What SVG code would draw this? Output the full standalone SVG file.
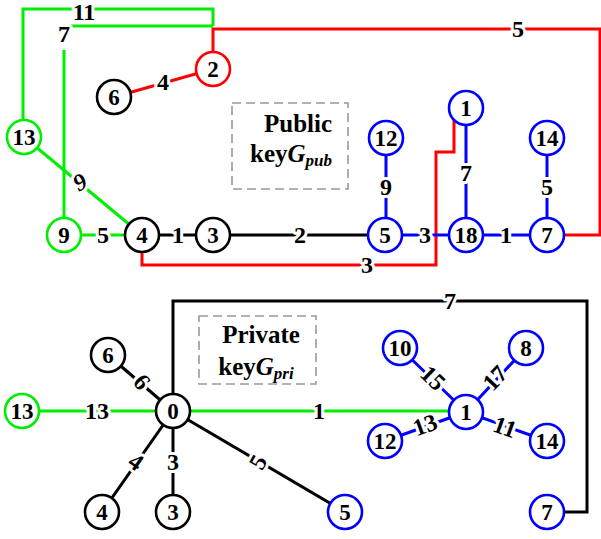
<svg xmlns="http://www.w3.org/2000/svg" width="601" height="539" viewBox="0 0 601 539" font-family="'Liberation Serif', 'Times New Roman', serif">
<style>
text{font-family:'Liberation Serif','Times New Roman',serif;font-weight:bold;text-anchor:middle}
.n circle{fill:#fff;stroke-width:2.6}
.n text{font-size:23px}
.lb text{font-size:24px;stroke:#fff;stroke-width:6;paint-order:stroke;stroke-linejoin:round}
.e{fill:none;stroke-width:3}
.g{stroke:#00ee00}.r{stroke:#ff0000}.b{stroke:#0000ff}.k{stroke:#000}
.box{fill:none;stroke:#999;stroke-width:1.6;stroke-dasharray:9 5}
.bt{font-size:25px}
</style>
<g id="connectors">
<path class="e g" d="M23,120 V9 H213 V26"/>
<path class="e g" d="M64,218 V50 M71,26 H213"/>
<path class="e g" d="M24,137 L142,235"/>
<path class="e g" d="M64,235 H142"/>
<path class="e r" d="M213,52 V29 H600 V235 H564"/>
<path class="e r" d="M114,97 L213,69"/>
<path class="e r" d="M142,252 V265 H436 V152 H454 V120"/>
<path class="e k" d="M142,235 H385"/>
<path class="e b" d="M385,235 H547"/>
<path class="e b" d="M386,138 V235"/>
<path class="e b" d="M466,108 V235"/>
<path class="e b" d="M547,138 V235"/>
<path class="e k" d="M173,394 V301 H587 V512 H564"/>
<path class="e g" d="M22,411 H173"/>
<path class="e g" d="M173,411 H466"/>
<path class="e k" d="M108,355 L173,411"/>
<path class="e k" d="M102,512 L173,411"/>
<path class="e k" d="M173,512 V411"/>
<path class="e k" d="M173,411 L345,512"/>
<path class="e b" d="M400,348 L466,412"/>
<path class="e b" d="M526,348 L466,412"/>
<path class="e b" d="M385,441 L466,412"/>
<path class="e b" d="M547,441 L466,412"/>
</g>
<g id="labels" class="lb">
<text x="84" y="20">11</text>
<text x="64" y="42">7</text>
<text x="0" y="8" transform="translate(80,182) rotate(-30)" font-style="italic">9</text>
<text x="103" y="243">5</text>
<text x="518" y="37">5</text>
<text x="163" y="90">4</text>
<text x="367" y="273">3</text>
<text x="178" y="243">1</text>
<text x="300" y="243">2</text>
<text x="425" y="243">3</text>
<text x="506" y="243">1</text>
<text x="386" y="195">9</text>
<text x="466" y="181">7</text>
<text x="547" y="195">5</text>
<text x="450" y="309">7</text>
<text x="97" y="419">13</text>
<text x="319" y="419">1</text>
<text x="0" y="8" transform="translate(142,382) rotate(50)">6</text>
<text x="0" y="8" transform="translate(136,462) rotate(35)">4</text>
<text x="173" y="470">3</text>
<text x="0" y="8" transform="translate(258,462) rotate(-60)">5</text>
<text x="0" y="8" transform="translate(433,378) rotate(44)">15</text>
<text x="0" y="8" transform="translate(495,378) rotate(-47)">17</text>
<text x="0" y="8" transform="translate(425,425) rotate(-20)">13</text>
<text x="0" y="8" transform="translate(505,427) rotate(20)">11</text>
</g>
<g id="pubbox">
<rect class="box" x="232" y="103" width="116" height="86"/>
<text class="bt" x="298" y="132">Public</text>
<text class="bt" x="291" y="162">key<tspan font-style="italic">G</tspan><tspan font-style="italic" font-size="17" dy="4">pub</tspan></text>
</g>
<g id="pribox">
<rect class="box" x="199" y="316" width="117" height="68"/>
<text class="bt" x="261" y="343">Private</text>
<text class="bt" x="256" y="375">key<tspan font-style="italic">G</tspan><tspan font-style="italic" font-size="17" dy="4">pri</tspan></text>
</g>
<g id="t2" class="n"><circle cx="213" cy="69" r="17" stroke="#ff0000"/><text x="213" y="77">2</text></g>
<g id="t6" class="n"><circle cx="114" cy="97" r="17" stroke="#000"/><text x="114" y="105">6</text></g>
<g id="t13" class="n"><circle cx="24" cy="137" r="17" stroke="#00ee00"/><text x="24" y="145">13</text></g>
<g id="t9" class="n"><circle cx="64" cy="235" r="17" stroke="#00ee00"/><text x="64" y="243">9</text></g>
<g id="t4" class="n"><circle cx="142" cy="235" r="17" stroke="#000"/><text x="142" y="243">4</text></g>
<g id="t3" class="n"><circle cx="213" cy="235" r="17" stroke="#000"/><text x="213" y="243">3</text></g>
<g id="t5" class="n"><circle cx="385" cy="235" r="17" stroke="#0000ff"/><text x="385" y="243">5</text></g>
<g id="t18" class="n"><circle cx="466" cy="235" r="17" stroke="#0000ff"/><text x="466" y="243">18</text></g>
<g id="t7" class="n"><circle cx="547" cy="235" r="17" stroke="#0000ff"/><text x="547" y="243">7</text></g>
<g id="t12" class="n"><circle cx="386" cy="138" r="17" stroke="#0000ff"/><text x="386" y="146">12</text></g>
<g id="t1" class="n"><circle cx="466" cy="108" r="17" stroke="#0000ff"/><text x="466" y="116">1</text></g>
<g id="t14" class="n"><circle cx="547" cy="138" r="17" stroke="#0000ff"/><text x="547" y="146">14</text></g>
<g id="b0" class="n"><circle cx="173" cy="411" r="17" stroke="#000"/><text x="173" y="419">0</text></g>
<g id="b6" class="n"><circle cx="108" cy="355" r="17" stroke="#000"/><text x="108" y="363">6</text></g>
<g id="b13" class="n"><circle cx="22" cy="411" r="17" stroke="#00ee00"/><text x="22" y="419">13</text></g>
<g id="b4" class="n"><circle cx="102" cy="512" r="17" stroke="#000"/><text x="102" y="520">4</text></g>
<g id="b3" class="n"><circle cx="173" cy="512" r="17" stroke="#000"/><text x="173" y="520">3</text></g>
<g id="b5" class="n"><circle cx="345" cy="512" r="17" stroke="#0000ff"/><text x="345" y="520">5</text></g>
<g id="b1" class="n"><circle cx="466" cy="412" r="17" stroke="#0000ff"/><text x="466" y="420">1</text></g>
<g id="b10" class="n"><circle cx="400" cy="348" r="17" stroke="#0000ff"/><text x="400" y="356">10</text></g>
<g id="b8" class="n"><circle cx="526" cy="348" r="17" stroke="#0000ff"/><text x="526" y="356">8</text></g>
<g id="b12" class="n"><circle cx="385" cy="441" r="17" stroke="#0000ff"/><text x="385" y="449">12</text></g>
<g id="b14" class="n"><circle cx="547" cy="441" r="17" stroke="#0000ff"/><text x="547" y="449">14</text></g>
<g id="b7" class="n"><circle cx="547" cy="512" r="17" stroke="#0000ff"/><text x="547" y="520">7</text></g>
</svg>
